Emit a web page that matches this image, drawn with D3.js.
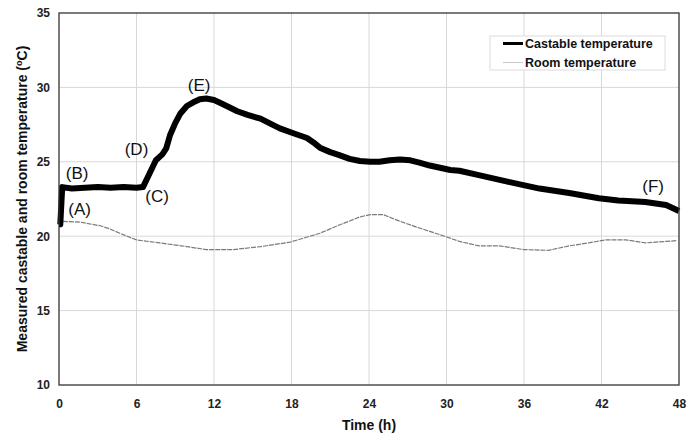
<!DOCTYPE html>
<html>
<head>
<meta charset="utf-8">
<script src="https://cdn.jsdelivr.net/npm/d3@7"></script>
<style>
  body { margin: 0; background: #fff; }
  svg { display: block; font-family: "Liberation Sans", Arial, sans-serif; }
</style>
</head>
<body>
<div id="chart"></div>
<script>
// DATA -------------------------------------------------------------------
const xTicks = [0, 6, 12, 18, 24, 30, 36, 42, 48];
const yTicks = [10, 15, 20, 25, 30, 35];

const castableTime = [0, 0.1, 0.25, 1, 2, 3, 4, 5, 6, 6.5, 7, 7.5, 8, 8.3, 8.6, 9, 9.4, 9.9, 10.4, 10.9,
  11.4, 12, 12.5, 13.1, 13.8, 14.6, 15.6, 16.4, 17.1, 18.2, 19.2, 19.7, 20.2, 21, 21.7, 22.5, 23.3, 24.1,
  24.8, 25.6, 26.4, 27.2, 27.9, 28.7, 29.5, 30.3, 31, 32.5, 34.8, 37.2, 39.5, 41.8, 43.3, 45.4, 47, 48];
const castableTemp = [20.8, 20.8, 23.3, 23.2, 23.25, 23.3, 23.25, 23.3, 23.25, 23.3, 24.2, 25.1, 25.5, 25.9,
  26.8, 27.6, 28.25, 28.75, 29.0, 29.2, 29.25, 29.15, 28.95, 28.7, 28.4, 28.15, 27.9, 27.55, 27.25, 26.9,
  26.6, 26.3, 25.95, 25.65, 25.45, 25.2, 25.05, 25.0, 25.0, 25.1, 25.15, 25.1, 24.95, 24.75, 24.6, 24.45,
  24.4, 24.1, 23.65, 23.2, 22.9, 22.55, 22.4, 22.3, 22.1, 21.7];

const roomTime = [0.3, 1.6, 3.2, 3.9, 4.7, 6, 7.8, 9.9, 11.4, 13.5, 15.6, 17.9, 20.2, 21.7, 23.3, 24.1,
  25.1, 26.4, 27.9, 29.5, 31, 32.5, 34.1, 36, 37.9, 39.5, 41, 42.3, 43.9, 45.4, 47, 47.8];
const roomTemp = [21.0, 20.95, 20.7, 20.5, 20.2, 19.75, 19.55, 19.3, 19.1, 19.1, 19.3, 19.6, 20.2, 20.75,
  21.3, 21.45, 21.45, 21.0, 20.55, 20.1, 19.65, 19.35, 19.35, 19.1, 19.05, 19.35, 19.55, 19.75, 19.75,
  19.55, 19.65, 19.7];

const stageLabels = ["(A)", "(B)", "(C)", "(D)", "(E)", "(F)"];
const stageTime = [1.6, 1.4, 7.6, 6.0, 10.85, 46.0];
const stageTemp = [21.4, 23.85, 22.3, 25.45, 29.75, 22.95];

const legendLabels = ["Castable temperature", "Room temperature"];

// CHART INIT -------------------------------------------------------------
const margin = {top: 13, right: 20, bottom: 49, left: 59};
const width = 699 - margin.left - margin.right;
const height = 434 - margin.top - margin.bottom;

const svg = d3.select('#chart')
  .append('svg')
  .attr('width', 699)
  .attr('height', 434)
  .append('g')
  .attr('transform', 'translate(' + margin.left + ',' + margin.top + ')');

const xScale = d3.scaleLinear().domain([0, 48]).range([0, width]);
const yScale = d3.scaleLinear().domain([10, 35]).range([height, 0]);

// grid
svg.append('g')
  .selectAll('line')
  .data(xTicks.slice(1, -1))
  .join('line')
  .attr('x1', d => xScale(d)).attr('x2', d => xScale(d))
  .attr('y1', 0).attr('y2', height)
  .attr('stroke', '#d8d8d8').attr('stroke-width', 1);

svg.append('g')
  .selectAll('line')
  .data(yTicks.slice(1, -1))
  .join('line')
  .attr('x1', 0).attr('x2', width)
  .attr('y1', d => yScale(d)).attr('y2', d => yScale(d))
  .attr('stroke', '#d8d8d8').attr('stroke-width', 1);

// axes (labels only)
const xAxis = d3.axisBottom(xScale).tickValues(xTicks).tickSize(0).tickPadding(14);
const yAxis = d3.axisLeft(yScale).tickValues(yTicks).tickSize(0).tickPadding(9);

svg.append('g')
  .attr('transform', 'translate(0,' + height + ')')
  .call(xAxis)
  .call(g => g.select('.domain').remove())
  .selectAll('text')
  .attr('font-size', 12).attr('font-weight', 'bold').attr('fill', '#222')
  .attr('font-family', '"Liberation Sans", Arial, sans-serif');

svg.append('g')
  .call(yAxis)
  .call(g => g.select('.domain').remove())
  .selectAll('text')
  .attr('font-size', 12).attr('font-weight', 'bold').attr('fill', '#222')
  .attr('font-family', '"Liberation Sans", Arial, sans-serif');

// lines
const line = d3.line()
  .x(d => xScale(d[0]))
  .y(d => yScale(d[1]));

const roomData = roomTime.map((t, i) => [t, roomTemp[i]]);
const castableData = castableTime.map((t, i) => [t, castableTemp[i]]);

svg.append('path')
  .datum(roomData)
  .attr('fill', 'none')
  .attr('stroke', '#7a7a7a')
  .attr('stroke-width', 1.2)
  .attr('stroke-dasharray', '5 1')
  .attr('d', line);

svg.append('path')
  .datum(castableData)
  .attr('fill', 'none')
  .attr('stroke', '#000')
  .attr('stroke-width', 6)
  .attr('stroke-linejoin', 'round')
  .attr('d', line);

// plot frame
svg.append('rect')
  .attr('width', width).attr('height', height)
  .attr('fill', 'none')
  .attr('stroke', '#333').attr('stroke-width', 1.3);

// stage labels
svg.append('g')
  .selectAll('text')
  .data(stageLabels)
  .join('text')
  .attr('x', (d, i) => xScale(stageTime[i]))
  .attr('y', (d, i) => yScale(stageTemp[i]))
  .attr('text-anchor', 'middle')
  .attr('font-size', 17)
  .attr('fill', '#111')
  .text(d => d);

// legend
const legend = svg.append('g')
  .attr('transform', 'translate(' + (490 - margin.left) + ',' + (36 - margin.top) + ')');

legend.append('rect')
  .attr('width', 175).attr('height', 34)
  .attr('fill', '#fff')
  .attr('stroke', '#dcdcdc');

legend.append('line')
  .attr('x1', 13).attr('x2', 33).attr('y1', 7.5).attr('y2', 7.5)
  .attr('stroke', '#000').attr('stroke-width', 3);
legend.append('line')
  .attr('x1', 13).attr('x2', 33).attr('y1', 26.5).attr('y2', 26.5)
  .attr('stroke', '#c8c8c8').attr('stroke-width', 1);

legend.selectAll('text.leg')
  .data(legendLabels)
  .join('text')
  .attr('class', 'leg')
  .attr('x', 35)
  .attr('y', (d, i) => 12 + i * 19)
  .attr('font-size', 12.5)
  .attr('font-weight', 'bold')
  .attr('fill', '#111')
  .text(d => d);

// axis titles
svg.append('text')
  .attr('x', width / 2)
  .attr('y', height + 45)
  .attr('text-anchor', 'middle')
  .attr('font-size', 14)
  .attr('font-weight', 'bold')
  .attr('fill', '#111')
  .text('Time (h)');

const yTitle = svg.append('text')
  .attr('transform', 'translate(' + (27 - margin.left) + ',' + (height / 2) + ') rotate(-90)')
  .attr('text-anchor', 'middle')
  .attr('font-size', 14)
  .attr('font-weight', 'bold')
  .attr('fill', '#111');
yTitle.append('tspan').text('Measured castable and room temperature (');
yTitle.append('tspan').attr('font-size', 9).attr('dy', -5).text('o');
yTitle.append('tspan').attr('dy', 5).text('C)');
</script>
</body>
</html>
